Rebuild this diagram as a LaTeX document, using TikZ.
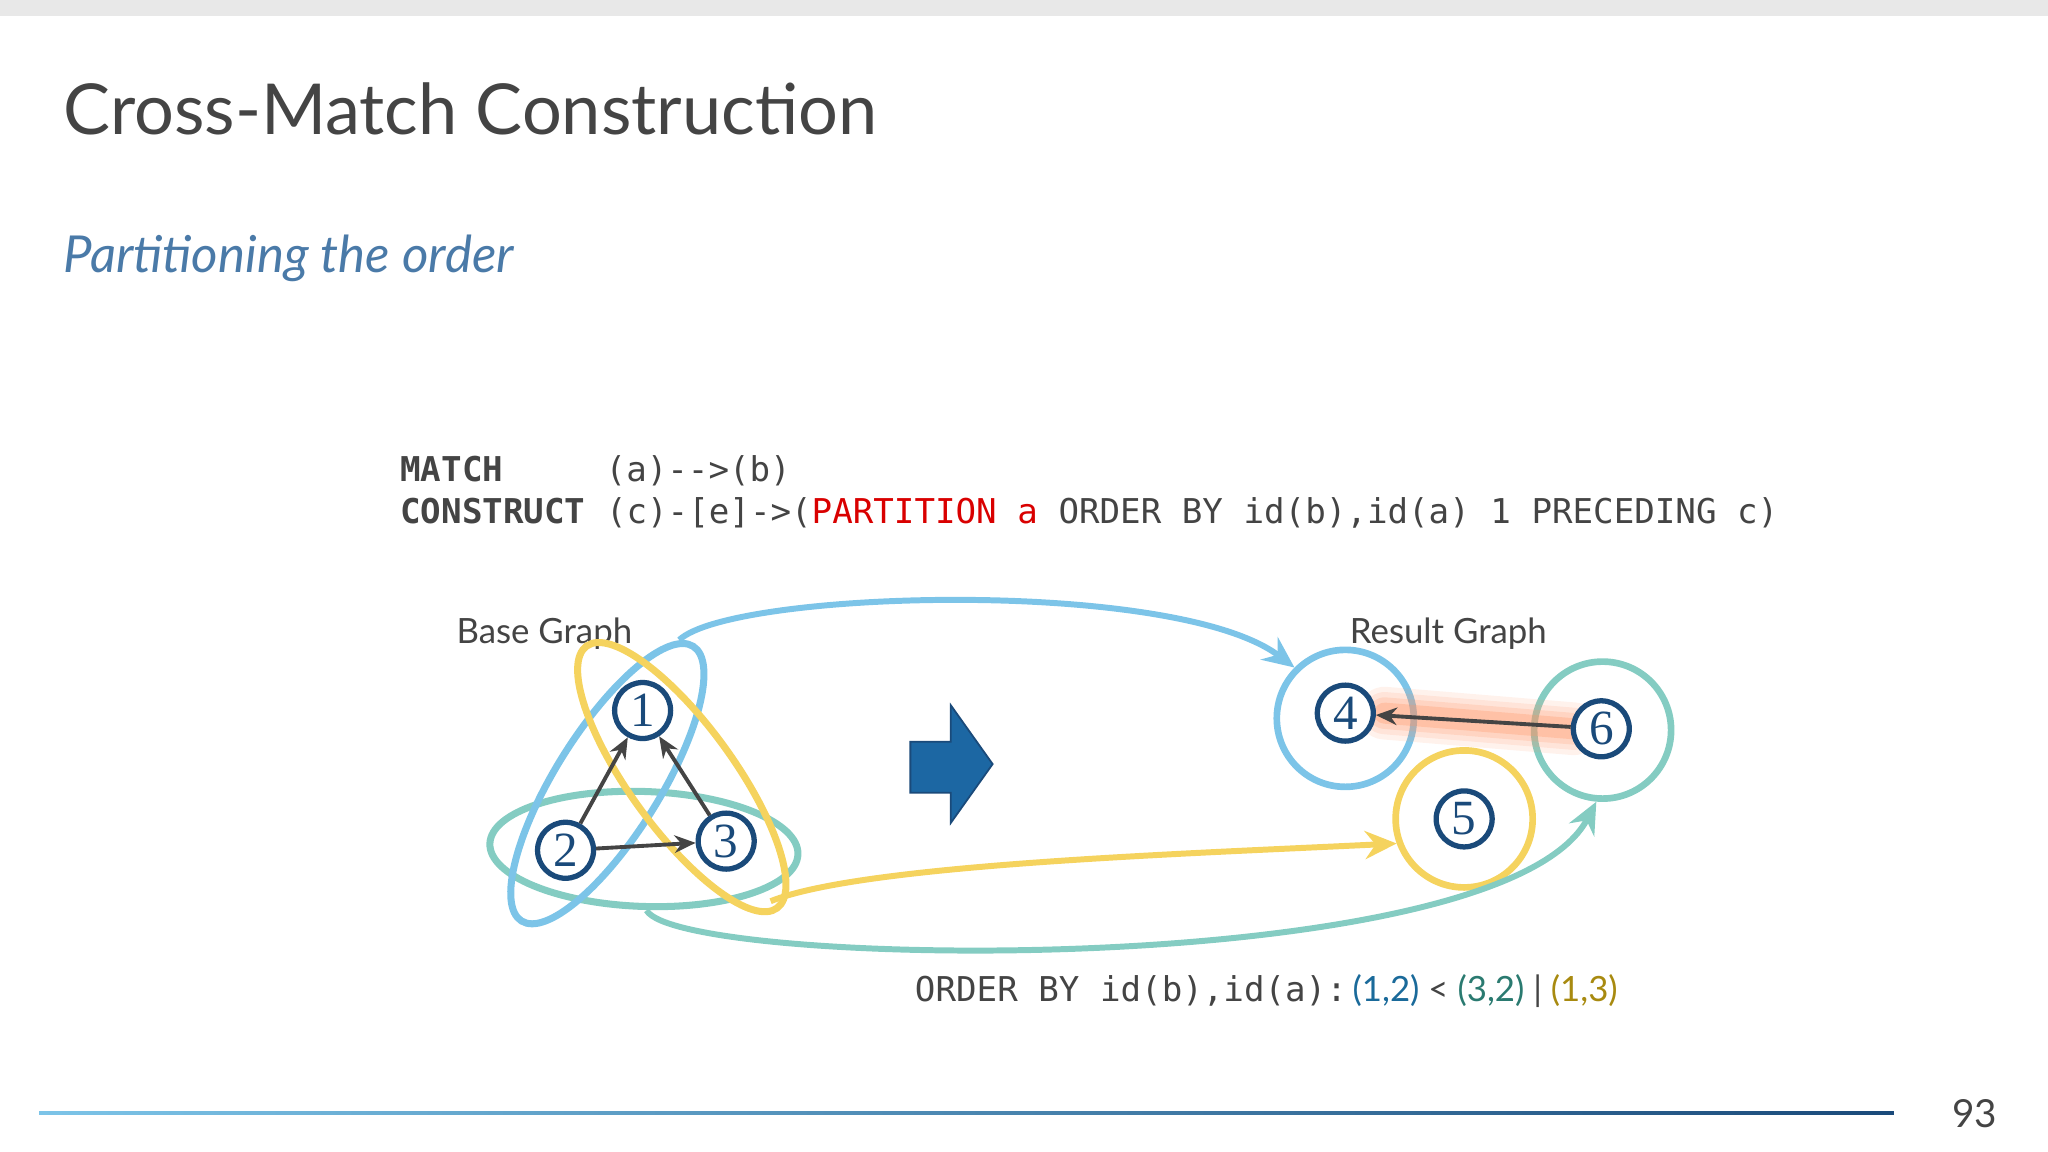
\documentclass[tikz,border=0pt]{standalone}
\usepackage{fontspec}
\setmainfont{Lato}
\newfontfamily\monof{DejaVu Sans Mono}
\newfontfamily\numf{Liberation Serif}
\usetikzlibrary{arrows.meta}
\definecolor{nblue}{HTML}{1A4A7A}
\definecolor{lblue}{HTML}{7CC4E8}
\definecolor{lyel}{HTML}{F5D35E}
\definecolor{lteal}{HTML}{84CCC2}
\definecolor{txtg}{HTML}{444444}
\definecolor{subb}{HTML}{4A7AA8}
\definecolor{garr}{HTML}{1C67A3}
\definecolor{olive}{HTML}{A88A10}
\definecolor{tealt}{HTML}{2A7A70}
\definecolor{blt}{HTML}{1A6A9A}
\begin{document}
\begin{tikzpicture}[x=0.013061cm,y=0.013061cm,
  gnode/.style={circle,draw=nblue,line width=1.5pt,fill=white,minimum size=0.56cm,inner sep=0pt,font=\numf\fontsize{14}{14}\selectfont,text=nblue},
  ring/.style={circle,line width=1.9pt,minimum size=1.37cm,inner sep=0pt},
  edge/.style={draw=txtg,line width=1.1pt,-{Stealth[length=6pt,width=5pt]}},
  curv/.style={line width=1.7pt,-{Stealth[length=9pt,width=8pt,inset=3pt]}},
  lbl/.style={font=\fontsize{9.9}{10}\selectfont,text=txtg}]
\useasboundingbox (0,0) rectangle (1568,882);
\fill[gray!18] (0,870) rectangle (1568,882);
\node[anchor=base west,font=\fontsize{20}{24}\selectfont,text=txtg,inner sep=0pt] (title) at (48,779) {Cross-Match Construction};
\node[anchor=west,font=\fontsize{14.5}{16}\itshape,text=subb,inner sep=0pt] (sub) at (48,684) {Partitioning the order};
\node[anchor=base west,font=\monof\fontsize{9.72}{12}\selectfont,text=txtg,inner sep=0pt] (m1) at (306,513) {\textbf{MATCH}\hspace{3.0em}(a)-{}->(b)};
\node[anchor=base west,font=\monof\fontsize{9.72}{12}\selectfont,text=txtg,inner sep=0pt] (m2) at (306,481) {\textbf{CONSTRUCT} (c)-[e]->(\textcolor{red!85!black}{PARTITION a} ORDER BY id(b),id(a) 1 PRECEDING c)};
\node[lbl,anchor=base west,inner sep=0pt] (bg) at (349,389) {Base Graph};
\node[lbl,anchor=base west,inner sep=0pt] (rg) at (1033,389) {Result Graph};
% ellipses
\draw[lteal,line width=2pt,rotate around={-2:(493,232)}] (493,232) ellipse [x radius=118,y radius=44];
\draw[lblue,line width=2pt,rotate around={58:(465,282)}] (465,282) ellipse [x radius=124,y radius=40];
\draw[lyel,line width=2pt,rotate around={-54:(522,287)}] (522,287) ellipse [x radius=124,y radius=40];
\node[gnode] (n1) at (492,338) {1};
\node[gnode] (n2) at (433,231) {2};
\node[gnode] (n3) at (556,238) {3};
\draw[edge] (n2) -- (n1);
\draw[edge] (n3) -- (n1);
\draw[edge] (n2) -- (n3);
% block arrow
\fill[garr,draw=nblue,line width=0.5pt] (697,314) -- (728,314) -- (728,342) -- (760,297) -- (728,252) -- (728,275) -- (697,275) -- cycle;
% result
\node[ring,draw=lblue] (R4) at (1030,332) {};
\node[ring,draw=lteal] (R6) at (1227,323) {};
\node[ring,draw=lyel] (R5) at (1121,255) {};
\foreach \w/\o in {15/0.12,12/0.15,9/0.2,6/0.3}{
  \draw[line width=\w pt,color=orange!60!red!60!white,opacity=\o,line cap=round] (1060,336) -- (1205,324);}
\node[gnode] (n4) at (1030,336) {4};
\node[gnode] (n6) at (1226,324) {6};
\node[gnode] (n5) at (1121,255) {5};
\draw[edge] (n6) -- (n4);
% curves
\coordinate (bs) at (520,392);
\coordinate (ys) at (590,192);
\coordinate (ts) at (495,185);
\draw[curv,lblue] (bs) .. controls (560,430) and (900,440) .. (R4.135);
\draw[curv,lyel] (ys) .. controls (660,220) and (900,228) .. (R5.200);
\draw[curv,lteal] (ts) .. controls (520,140) and (1150,130) .. (R6.265);
% bottom text
\node[anchor=base west,inner sep=0pt,font=\fontsize{9.9}{12}\selectfont,text=txtg] (ob) at (700,115) {{\monof\fontsize{9.72}{12}\selectfont ORDER BY id(b),id(a):}\,\textcolor{blt}{(1,2)} < \textcolor{tealt}{(3,2)} | \textcolor{olive}{(1,3)}};
\shade[left color=lblue,right color=nblue] (30,29) rectangle (1450,31);
\node[font=\fontsize{11}{12}\selectfont,text=txtg] (pg) at (1512,29) {93};
\end{tikzpicture}
\end{document}
